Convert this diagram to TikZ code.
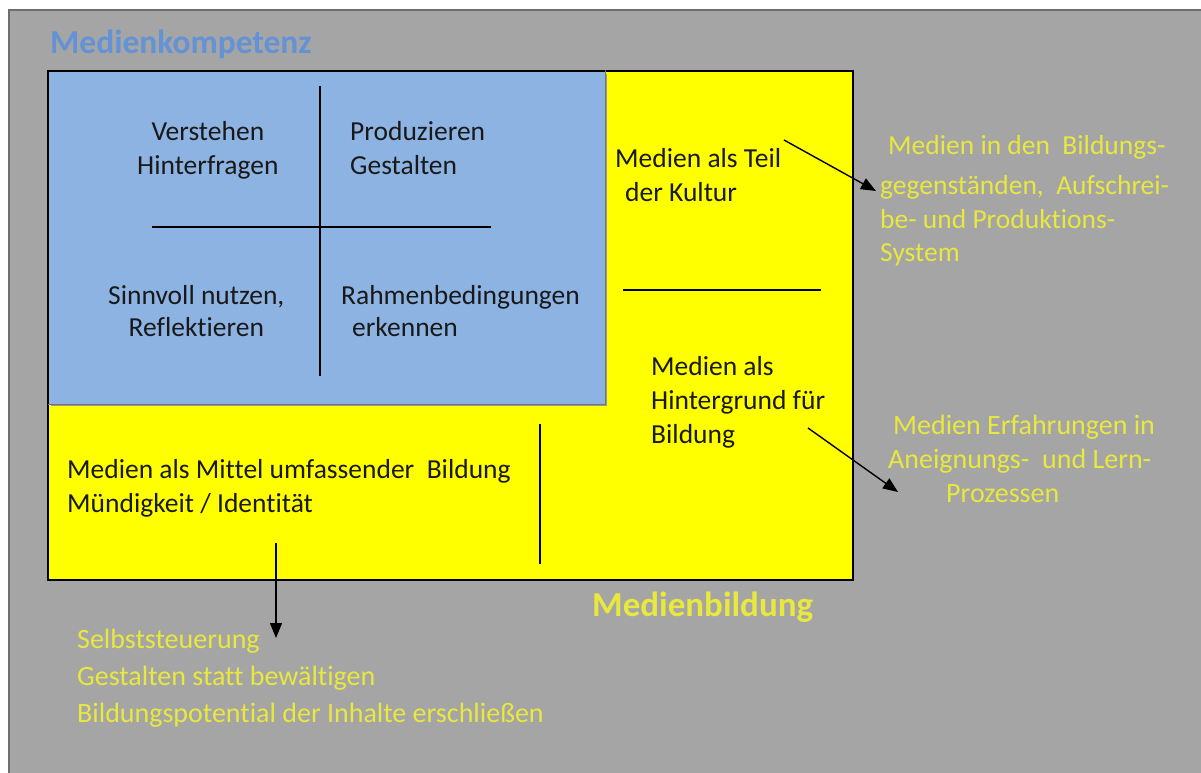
\documentclass[tikz,border=0pt]{standalone}
\usepackage{fontspec}
\setmainfont{Carlito}[Ligatures=NoCommon]
\usetikzlibrary{arrows.meta}
\definecolor{bggray}{RGB}{165,165,165}
\definecolor{edgegray}{RGB}{110,110,110}
\definecolor{boxyellow}{RGB}{255,255,0}
\definecolor{boxblue}{RGB}{141,179,226}
\definecolor{titleblue}{RGB}{100,146,214}
\definecolor{txtyellow}{RGB}{232,232,62}
\definecolor{txtdark}{RGB}{25,25,25}
\tikzset{
  body/.style={inner sep=0pt, anchor=base west, text=txtdark, font=\fontsize{27.5}{34}\selectfont},
  note/.style={inner sep=0pt, anchor=base west, text=txtyellow, font=\fontsize{27.5}{34}\selectfont},
  divider/.style={draw=black, line width=1.4pt},
  pointer/.style={draw=black, line width=1.4pt, -{Triangle[length=15pt,width=12pt]}},
}
\begin{document}
\begin{tikzpicture}[x=1pt,y=-1pt]
\useasboundingbox (0,0) rectangle (1201,773);
\fill[white] (0,0) rectangle (1201,773);
\fill[bggray] (9,10) rectangle (1201,773);
\draw[edgegray, line width=1.5pt] (9,773) -- (9,10) -- (1201,10);

% title
\node[inner sep=0pt, anchor=base west, text=titleblue, font=\fontsize{33.5}{40}\selectfont\bfseries] (title) at (50,54) {Medienkompetenz};

% outer yellow box and blue box
\draw[fill=boxyellow, draw=black, line width=2pt] (48,71) rectangle (853,580);
\fill[black!40] (51,74) rectangle (607,406);
\draw[fill=boxblue, draw=black!55, line width=1pt] (48,71) rectangle (605,404);
\draw[black, line width=2pt] (48,71) -- (48,404);
\draw[black, line width=2pt] (48,71) -- (605,71);

% dividers
\draw[divider] (320,86) -- (320,376);
\draw[divider] (152,227) -- (491,227);
\draw[divider] (623,290) -- (821,290);
\draw[divider] (540,424) -- (540,564);

% quadrant texts (anchor = baseline of last line)
\node[body, align=center] (q1) at (137,174) {Verstehen\\Hinterfragen};
\node[body, align=left] (q2) at (350,174) {Produzieren\\Gestalten};
\node[body, align=center] (q3) at (108,336) {Sinnvoll nutzen,\\[-2pt]Reflektieren};
\node[body, align=left] (q4) at (341,336) {Rahmenbedingungen\\[-2pt]\hspace*{11pt}erkennen};

% right column texts
\node[body, align=left] (kultur) at (615,201) {Medien als Teil\\\hspace*{10pt}der Kultur};
\node[body, align=left] (hinter) at (651,443) {Medien als\\Hintergrund für\\Bildung};
\node[body, align=left] (mittel) at (67,512) {Medien als Mittel umfassender\ \ Bildung\\Mündigkeit / Identität};

% outside notes
\node[note, align=left] (n1) at (880,261) {\hspace*{8pt}Medien in den\ \ Bildungs-\\[6pt]gegenständen,\ \ Aufschrei-\\be- und Produktions-\\[-1pt]System};
\node[note, align=left, font=\fontsize{28}{34}\selectfont] (n2) at (888,502) {\hspace*{5pt}Medien Erfahrungen in\\Aneignungs-\ \ und Lern-\\\hspace*{58pt}Prozessen};
\node[note, align=left, font=\fontsize{28}{37}\selectfont] (n3) at (77,722) {Selbststeuerung\\Gestalten statt bewältigen\\Bildungspotential der Inhalte erschließen};
\node[inner sep=0pt, anchor=base west, text=txtyellow, font=\fontsize{35}{40}\selectfont\bfseries] (bildung) at (592,616) {Medienbildung};

% arrows
\coordinate (a1s) at (784,140);
\coordinate (a1e) at (876,191);
\coordinate (a2s) at (808,428);
\coordinate (a2e) at (898,492);
\coordinate (a3s) at (276,543);
\coordinate (a3e) at (276,638);
\draw[pointer] (a1s) -- (a1e);
\draw[pointer] (a2s) -- (a2e);
\draw[pointer] (a3s) -- (a3e);
\end{tikzpicture}
\end{document}
